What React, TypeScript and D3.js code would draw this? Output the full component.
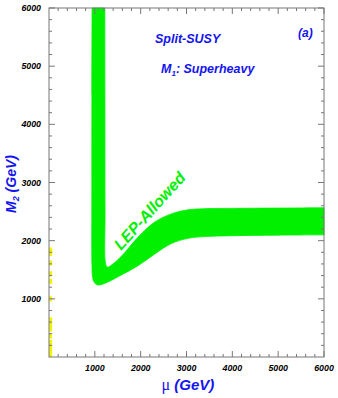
import React from "react";
import * as d3 from "d3";

// lower / left edge of the LEP-allowed band (mu, M2) in GeV
const bandOuter: [number, number][] = [
  [940, 6000], [936, 4500], [935, 3000], [937, 1600], [945, 1420], [968, 1315],
  [1010, 1260], [1069, 1238], [1150, 1248], [1300, 1295], [1578, 1410],
  [1942, 1570], [2306, 1770], [2669, 1950], [3033, 2040], [3400, 2070],
  [4000, 2085], [5000, 2095], [6000, 2100],
];
// upper / right edge of the band
const bandInner: [number, number][] = [
  [6000, 2565], [5000, 2560], [4000, 2555], [3400, 2550], [3033, 2530],
  [2669, 2460], [2306, 2320], [1942, 2060], [1578, 1730], [1380, 1590],
  [1270, 1545], [1232, 1620], [1223, 2500], [1220, 4500], [1218, 6000],
];
// yellow points hugging the M2 axis
const yellowMu = [25, 25, 25, 25, 25, 25, 25, 25, 25, 25, 25, 25, 25, 25, 25];
const yellowM2 = [1840, 1800, 1616, 1430, 1300, 1000, 640, 560, 480, 360, 250, 180, 110, 40, 1780];

const majorTicks = [1000, 2000, 3000, 4000, 5000, 6000];
const minorTicks = d3.range(200, 6000, 200).filter((v) => v % 1000 !== 0);

const W = 338;
const H = 398;
const left = 49, right = 324, top = 8, bottom = 357;

const BLUE = "#1414f0";
const GREEN = "#00f000";
const AXIS = "#777";
const fontBI = { fontFamily: "'Liberation Sans', Arial, sans-serif", fontWeight: "bold", fontStyle: "italic" } as const;

export default function App() {
  const x = d3.scaleLinear().domain([0, 6000]).range([left, right]);
  const y = d3.scaleLinear().domain([0, 6000]).range([bottom, top]);

  const edge = d3
    .line<[number, number]>()
    .x((d) => x(d[0]))
    .y((d) => y(d[1]))
    .curve(d3.curveCatmullRom.alpha(0.5));
  const band = edge(bandOuter) + "L" + (edge(bandInner) as string).slice(1) + "Z";

  const tick = (v: number, len: number, key: string) => (
    <g key={key} stroke={AXIS} strokeWidth={1}>
      <line x1={x(v)} x2={x(v)} y1={bottom} y2={bottom - len} />
      <line x1={x(v)} x2={x(v)} y1={top} y2={top + len} />
      <line x1={left} x2={left + len} y1={y(v)} y2={y(v)} />
      <line x1={right} x2={right - len} y1={y(v)} y2={y(v)} />
    </g>
  );

  return (
    <svg width={W} height={H} style={{ position: "absolute", left: 0, top: 0, background: "#fff" }}>
      <path d={band} fill={GREEN} stroke={GREEN} strokeWidth={0.8} />
      {yellowM2.map((m, i) => (
        <rect key={i} x={x(yellowMu[i]) - 1} y={y(m) - 2.5} width={3} height={5} fill="#f4f400" />
      ))}

      <rect x={left} y={top} width={right - left} height={bottom - top} fill="none" stroke={AXIS} strokeWidth={1} />
      {minorTicks.map((v) => tick(v, 3, "m" + v))}
      {majorTicks.map((v) => tick(v, 6, "M" + v))}

      {majorTicks.map((v) => (
        <text key={"xl" + v} x={x(v)} y={bottom + 14} textAnchor="middle" fontSize={8.8} {...fontBI}>
          {v}
        </text>
      ))}
      {majorTicks.map((v) => (
        <text key={"yl" + v} x={left - 8} y={y(v) + 3} textAnchor="end" fontSize={8.8} {...fontBI}>
          {v}
        </text>
      ))}

      <text x={188} y={390} textAnchor="middle" fontSize={15} fill={BLUE} {...fontBI}>
        <tspan fontFamily="'Liberation Serif', serif" fontWeight="normal" fontStyle="normal" fontSize={16}>μ</tspan>
        {" (GeV)"}
      </text>
      <text transform="translate(16,184) rotate(-90)" textAnchor="middle" fontSize={14} fill={BLUE} {...fontBI}>
        M<tspan fontSize={9} dy={3}>2</tspan>
        <tspan dy={-3}> (GeV)</tspan>
      </text>

      <text x={155} y={43} fontSize={12.5} fill={BLUE} {...fontBI}>Split-SUSY</text>
      <text x={161} y={73} fontSize={12.5} fill={BLUE} {...fontBI}>
        M<tspan fontSize={8} dy={3}>1</tspan>
        <tspan dy={-3}>: Superheavy</tspan>
      </text>
      <text x={298} y={37} fontSize={12} fill={BLUE} {...fontBI}>(a)</text>

      <text transform="translate(121,251) rotate(-48)" fontSize={16} fill={GREEN} {...fontBI}>
        LEP-Allowed
      </text>
    </svg>
  );
}
